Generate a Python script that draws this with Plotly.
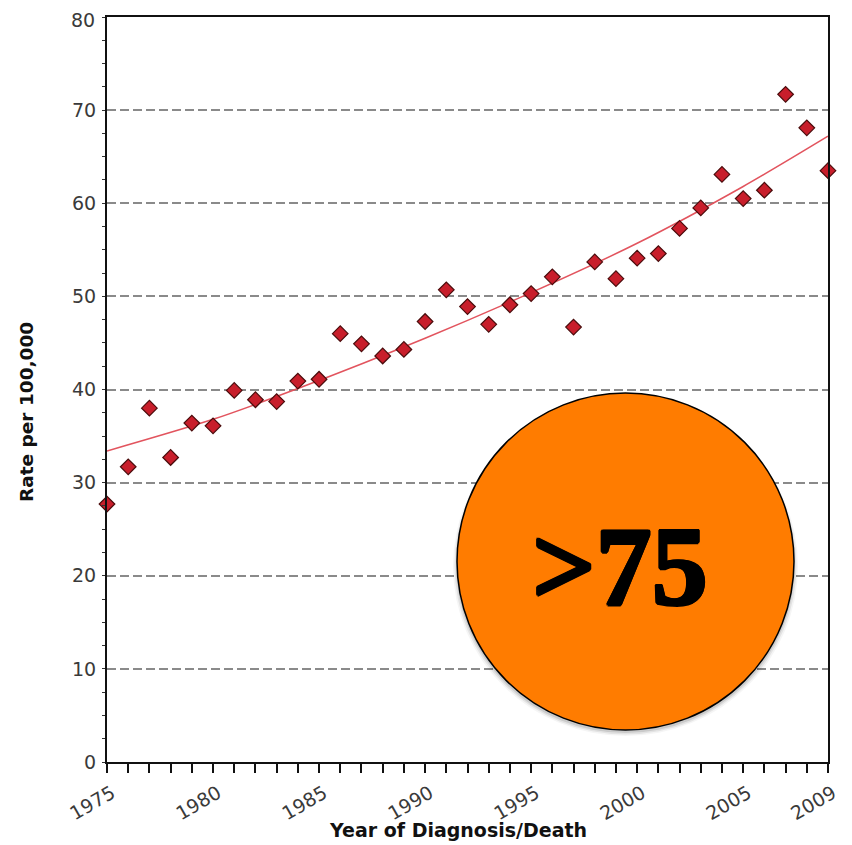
import plotly.graph_objects as go

years = list(range(1975, 2010))
rates = [27.7, 31.7, 38.0, 32.7, 36.4, 36.1, 39.9, 38.9, 38.7, 40.9,
         41.1, 46.0, 44.9, 43.6, 44.3, 47.3, 50.7, 48.9, 47.0, 49.1,
         50.3, 52.1, 46.7, 53.7, 51.9, 54.1, 54.6, 57.3, 59.5, 63.1,
         60.5, 61.4, 71.7, 68.1, 63.5]

trend_years = [1975, 1980, 1984, 1990, 1995, 2000, 2005, 2009]
trend_rates = [33.4, 36.8, 40.1, 45.5, 50.4, 55.7, 61.8, 67.2]

x_tickvals = [1975, 1980, 1985, 1990, 1995, 2000, 2005, 2009]
x_ticktext = [str(v) for v in x_tickvals]
y_tickvals = [0, 10, 20, 30, 40, 50, 60, 70]
y_top_label = "80"

badge_text = ">75"
x_title = "Year of Diagnosis/Death"
y_title = "Rate per 100,000"

# the page body has an 8px margin, so the figure starts at (8, 8)
OFF = 8
W, H = 852 - OFF, 845 - OFF
L, R, T, B = 107 - OFF, 24, 17 - OFF, 83
pw, ph = W - L - R, H - T - B


def px_x(p):
    return (p - OFF - L) / pw


def px_y(p):
    return (H - B - (p - OFF)) / ph


tick_font = dict(family="DejaVu Sans", size=19, color="#3a3a3a")

fig = go.Figure()
fig.add_trace(go.Scatter(
    x=trend_years, y=trend_rates, mode="lines",
    line=dict(color="#E2545E", width=1.5, shape="spline", smoothing=0.8),
    hoverinfo="skip", showlegend=False))
fig.add_trace(go.Scatter(
    x=years, y=rates, mode="markers",
    marker=dict(symbol="diamond", size=12, color="#C81E2B",
                line=dict(color="#4A0C0C", width=1.2)),
    cliponaxis=False, showlegend=False))

# badge circle, placed in screen pixels
bx0, bx1, by0, by1 = 457, 794, 393, 730
shapes = []
for grow, op in [(5, 0.04), (3.5, 0.07), (2, 0.11)]:
    shapes.append(dict(type="circle", xref="paper", yref="paper",
                       x0=px_x(bx0 - grow + 1), x1=px_x(bx1 + grow - 1),
                       y0=px_y(by1 + grow + 1), y1=px_y(by0 + 4),
                       fillcolor=f"rgba(0,0,0,{op})", line=dict(width=0),
                       layer="above"))
shapes.append(dict(type="circle", xref="paper", yref="paper",
                   x0=px_x(bx0), x1=px_x(bx1), y0=px_y(by1), y1=px_y(by0),
                   fillcolor="#FF7C00", line=dict(color="#000000", width=1.5),
                   layer="above"))

thick = ", ".join(f"{dx}px {dy}px 0 #000" for dx, dy in
                  [(1.5, 0), (-1.5, 0), (0, 1.5), (0, -1.5),
                   (1, 1), (-1, -1), (1, -1), (-1, 1)])

fig.update_layout(
    width=W, height=H,
    margin=dict(l=L, r=R, t=T, b=B, autoexpand=False),
    paper_bgcolor="white", plot_bgcolor="white",
    shapes=shapes,
    annotations=[
        dict(text=f"<b>{badge_text}</b>", x=px_x(620), y=px_y(566),
             xref="paper", yref="paper", showarrow=False,
             xanchor="center", yanchor="middle",
             font=dict(family="Liberation Serif", size=112, color="#000000",
                       weight=700, shadow=thick)),
        dict(text=f"<b>{y_title}</b>", x=px_x(26), y=px_y(412),
             xref="paper", yref="paper",
             showarrow=False, textangle=-90, xanchor="center", yanchor="middle",
             font=dict(family="DejaVu Sans", size=18.5, color="#111111")),
        dict(text=f"<b>{x_title}</b>", x=px_x(458), y=px_y(830),
             xref="paper", yref="paper",
             showarrow=False, xanchor="center", yanchor="middle",
             font=dict(family="DejaVu Sans", size=19, color="#111111")),
        dict(text=y_top_label, x=px_x(96), y=px_y(8), xref="paper",
             yref="paper", showarrow=False, xanchor="right", yanchor="top",
             font=tick_font, borderpad=0),
    ],
)

fig.update_xaxes(
    range=[1975, 2009], tickvals=x_tickvals, ticktext=x_ticktext,
    tickangle=-30, ticks="outside", ticklen=9, tickwidth=1.5, tickcolor="#111",
    ticklabelshift=5, ticklabelstandoff=2,
    minor=dict(dtick=1, tick0=1975, ticks="outside", ticklen=9, tickwidth=1.5,
               tickcolor="#111", showgrid=False),
    showgrid=False, zeroline=False, automargin=False,
    showline=True, linecolor="#111", linewidth=2, mirror=True,
    tickfont=tick_font)
fig.update_yaxes(
    range=[0, 80], tickvals=y_tickvals, ticks="", ticklen=0,
    ticklabelstandoff=5,
    minor=dict(dtick=2.5, tick0=0, ticks="outside", ticklen=3, tickwidth=1,
               tickcolor="#333", showgrid=False),
    showgrid=True, gridcolor="#8a8a8a", gridwidth=1.5, griddash="9px,4px",
    zeroline=False, automargin=False,
    showline=True, linecolor="#111", linewidth=2, mirror=True,
    tickfont=tick_font)

fig.write_html("out.html")
